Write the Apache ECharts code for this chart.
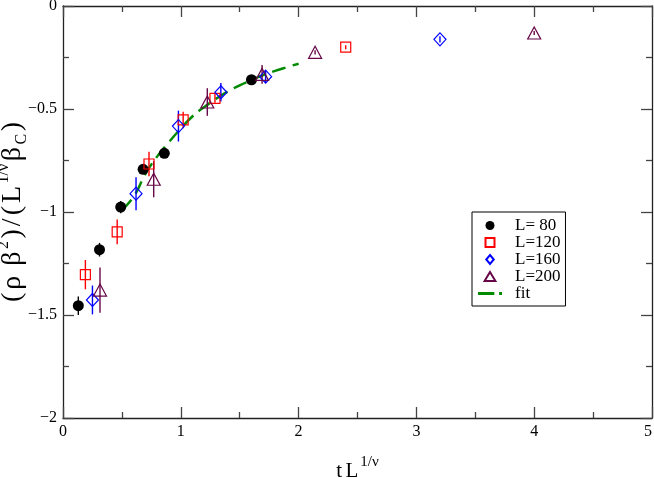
<!DOCTYPE html>
<html>
<head>
<meta charset="utf-8">
<script src="https://cdn.jsdelivr.net/npm/echarts@6/dist/echarts.min.js"></script>
<style>html,body{margin:0;padding:0;background:#fff;}#c{width:654px;height:478px;}</style>
</head>
<body>
<div id="c"></div>
<script>
// L=80
const x80 = [0.13, 0.31, 0.49, 0.68, 0.86, 1.60];
const y80 = [-1.455, -1.183, -0.976, -0.793, -0.715, -0.358];
const e80 = [0.045, 0.033, 0.03, 0.022, 0.02, 0.015];
// L=120
const x120 = [0.19, 0.46, 0.73, 1.02, 1.29, 2.40];
const y120 = [-1.304, -1.096, -0.767, -0.553, -0.448, -0.200];
const e120 = [0.071, 0.06, 0.06, 0.04, 0.022, 0.01];
// L=160
const x160 = [0.25, 0.62, 0.98, 1.34, 1.72, 3.20];
const y160 = [-1.427, -0.911, -0.583, -0.419, -0.343, -0.162];
const e160 = [0.07, 0.08, 0.075, 0.045, 0.03, 0.015];
// L=200
const x200 = [0.314, 0.77, 1.225, 1.69, 2.14, 4.00];
const y200 = [-1.379, -0.841, -0.466, -0.332, -0.225, -0.131];
const e200 = [0.11, 0.087, 0.067, 0.046, 0.01, 0.01];
// fit curve
const xFit = [0.5, 0.6, 0.7, 0.8, 0.9, 1.0, 1.1, 1.2, 1.3, 1.4, 1.5, 1.6, 1.7, 1.8, 1.9, 2.0];
const yFit = [-0.99, -0.925, -0.815, -0.73, -0.66, -0.595, -0.535, -0.49, -0.45, -0.415, -0.385, -0.36, -0.335, -0.315, -0.297, -0.28];

const xTicks = [0, 1, 2, 3, 4, 5];
const yTicks = [-2, -1.5, -1, -0.5, 0];
const legendNames = ['L= 80', 'L=120', 'L=160', 'L=200', 'fit'];

const FONT = '"Liberation Serif", "DejaVu Serif", serif';
const colBlack = '#000000', colRed = '#ff0000', colBlue = '#0000ff', colPurple = '#670748', colGreen = '#008b00';

function pts(xs, ys) { return xs.map((x, i) => [x, ys[i]]); }
function errData(xs, ys, es) { return xs.map((x, i) => [x, ys[i], es[i]]); }

function errSeries(xs, ys, es, color) {
  return {
    type: 'custom',
    name: 'err' + color,
    data: errData(xs, ys, es),
    z: 3,
    silent: true,
    renderItem: function (params, api) {
      const x = api.value(0), y = api.value(1), e = api.value(2);
      const p1 = api.coord([x, y - e]);
      const p2 = api.coord([x, y + e]);
      return {
        type: 'line',
        shape: { x1: p1[0], y1: p1[1], x2: p2[0], y2: p2[1] },
        style: { stroke: color, lineWidth: 1.4 }
      };
    }
  };
}

function axisCommon() {
  return {
    axisLine: { show: true, onZero: false, lineStyle: { color: '#222', width: 1.3 } },
    axisTick: { show: true, inside: true, length: 11, lineStyle: { color: '#444', width: 1.3 } },
    minorTick: { show: true, splitNumber: 2, length: 6, lineStyle: { color: '#444', width: 1.3 } },
    splitLine: { show: false },
    minorSplitLine: { show: false }
  };
}

const yFmt = v => {
  if (v === 0) return '0';
  return '\u2212' + String(Math.abs(v));
};

const bigA = { fontFamily: FONT, fontSize: 28, color: '#000', verticalAlign: 'middle', lineHeight: 34, padding: [0, 1.5] };
const supS = { fontFamily: FONT, fontSize: 16, color: '#000', verticalAlign: 'top', lineHeight: 34, padding: [0, 1] };
const subS = { fontFamily: FONT, fontSize: 16, color: '#000', verticalAlign: 'bottom', lineHeight: 34, padding: [0, 1] };

const chart = echarts.init(document.getElementById('c'));
const option = {
  animation: false,
  backgroundColor: '#fff',
  grid: { left: 63, right: 2, top: 6, bottom: 60, containLabel: false, outerBoundsMode: 'none' },
  xAxis: [
    Object.assign({
      type: 'value', min: xTicks[0], max: xTicks[xTicks.length - 1], interval: 1, position: 'bottom',
      axisLabel: { show: true, fontFamily: FONT, fontSize: 16, color: '#000', margin: 6, alignMaxLabel: 'right' },
      name: '{a|t}{g| }{a|L}{s|1/ν}',
      nameLocation: 'middle', nameGap: 37, nameMoveOverlap: false,
      nameTextStyle: {
        fontFamily: FONT, color: '#000',
        rich: {
          a: { fontFamily: FONT, fontSize: 21, color: '#000', verticalAlign: 'bottom', lineHeight: 27 },
          g: { fontFamily: FONT, fontSize: 14, color: '#000', verticalAlign: 'bottom', lineHeight: 27 },
          s: { fontFamily: FONT, fontSize: 15, color: '#000', verticalAlign: 'top', lineHeight: 27, padding: [0, 0, 0, 2] }
        }
      }
    }, axisCommon()),
    Object.assign({
      type: 'value', min: xTicks[0], max: xTicks[xTicks.length - 1], interval: 1, position: 'top',
      axisLabel: { show: false }
    }, axisCommon())
  ],
  yAxis: [
    Object.assign({
      type: 'value', min: yTicks[0], max: yTicks[yTicks.length - 1], interval: 0.5, position: 'left',
      axisLabel: { show: true, fontFamily: FONT, fontSize: 16, color: '#000', margin: 6, formatter: yFmt },
      name: '{a|(}{a|ρ}{a| β}{s|2}{a|)}{a|/}{a|(}{a|L}{s|1/ν}{a|β}{b|C}{a|)}',
      nameLocation: 'middle', nameGap: 33, nameRotate: 90, nameMoveOverlap: false,
      nameTextStyle: {
        fontFamily: FONT, color: '#000',
        rich: { a: bigA, s: supS, b: subS }
      }
    }, axisCommon()),
    Object.assign({
      type: 'value', min: yTicks[0], max: yTicks[yTicks.length - 1], interval: 0.5, position: 'right',
      axisLabel: { show: false }
    }, axisCommon())
  ],
  legend: {
    orient: 'vertical',
    left: 472, top: 212,
    padding: [5, 5, 4, 6],
    itemGap: 0,
    itemWidth: 24, itemHeight: 9,
    symbolKeepAspect: true,
    borderColor: '#000', borderWidth: 1,
    backgroundColor: '#fff',
    textStyle: { fontFamily: FONT, fontSize: 17, color: '#000', padding: [0, 0, 0, 8] },
    data: [
      { name: legendNames[0], icon: 'circle' },
      { name: legendNames[1], icon: 'path://M0,0L10,0L10,10L0,10Z' },
      { name: legendNames[2], icon: 'path://M5,0L10,6L5,12L0,6Z' },
      { name: legendNames[3], icon: 'path://M6,0L12,10L0,10Z' },
      { name: legendNames[4], icon: 'path://M0,0H17V3H0Z M22,0H25V3H22Z', itemStyle: { color: colGreen, borderWidth: 0 } }
    ]
  },
  series: [
    errSeries(x80, y80, e80, colBlack),
    errSeries(x120, y120, e120, colRed),
    errSeries(x160, y160, e160, colBlue),
    errSeries(x200, y200, e200, colPurple),
    {
      type: 'line', name: legendNames[4], data: pts(xFit, yFit), smooth: true,
      symbol: 'none', showSymbol: false, z: 2,
      lineStyle: { color: colGreen, width: 2.5, type: [14, 7] },
      itemStyle: { color: colGreen }
    },
    {
      type: 'scatter', name: legendNames[0], data: pts(x80, y80), symbol: 'circle', symbolSize: 11, z: 4,
      itemStyle: { color: colBlack, opacity: 1 }
    },
    {
      type: 'scatter', name: legendNames[1], data: pts(x120, y120), symbol: 'rect', symbolSize: 10, z: 4,
      itemStyle: { color: 'rgba(255,255,255,0)', borderColor: colRed, borderWidth: 1.2, opacity: 1 }
    },
    {
      type: 'scatter', name: legendNames[2], data: pts(x160, y160), symbol: 'diamond', symbolSize: [12, 13], z: 4,
      itemStyle: { color: 'rgba(255,255,255,0)', borderColor: colBlue, borderWidth: 1.2, opacity: 1 }
    },
    {
      type: 'scatter', name: legendNames[3], data: pts(x200, y200), symbol: 'triangle', symbolSize: [13, 12], z: 4,
      itemStyle: { color: 'rgba(255,255,255,0)', borderColor: colPurple, borderWidth: 1.2, opacity: 1 }
    }
  ]
};
chart.setOption(option);
</script>
</body>
</html>
